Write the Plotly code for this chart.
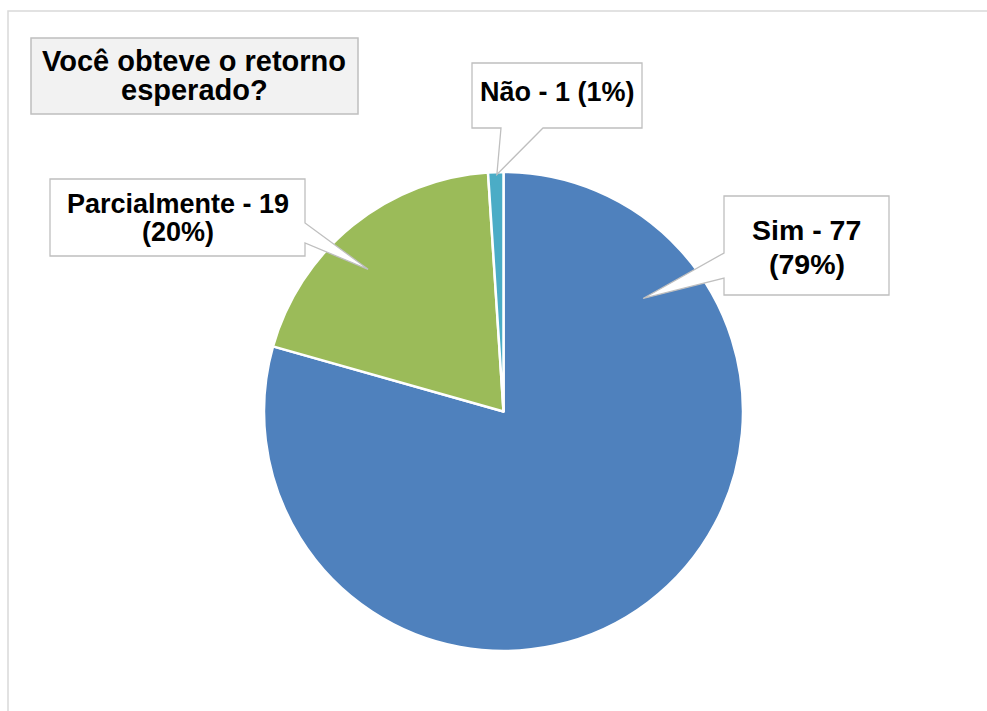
import math
import plotly.graph_objects as go

# ---- data ----
labels = ["Sim", "Parcialmente", "Não"]
values = [77, 19, 1]
colors = ["#4F81BD", "#9BBB59", "#4BACC6"]
title_lines = ["Você obteve o retorno", "esperado?"]

W, H = 987, 711
total = sum(values)
pcts = [round(v * 100 / total) for v in values]

def X(px):
    return px / W

def Y(py):
    return 1 - py / H

# pie geometry (pixels)
cx, cy, R = 503.5, 411.5, 239.5

fig = go.Figure(go.Pie(
    labels=labels, values=values, sort=False, direction="clockwise", rotation=0,
    marker=dict(colors=colors, line=dict(color="white", width=2.5)),
    textinfo="none", hoverinfo="label+value+percent",
    domain=dict(x=[X(cx - R), X(cx + R)], y=[Y(cy + R), Y(cy - R)]),
    showlegend=False,
))

shapes = []
annotations = []

# chart frame
shapes.append(dict(type="rect", xref="paper", yref="paper",
                   x0=X(8), x1=X(W + 20), y0=Y(H + 20), y1=Y(11),
                   line=dict(color="#D9D9D9", width=1.5), fillcolor="rgba(0,0,0,0)"))

# title box
TFS = 29
shapes.append(dict(type="rect", xref="paper", yref="paper",
                   x0=X(31), x1=X(358), y0=Y(114), y1=Y(38),
                   line=dict(color="#BFBFBF", width=1.5), fillcolor="#F2F2F2"))
for line, base in zip(title_lines, [71, 100]):
    annotations.append(dict(text=f"<b>{line}</b>", xref="paper", yref="paper",
                            x=X(194), y=Y(base - 0.35 * TFS), xanchor="center", yanchor="middle",
                            showarrow=False, font=dict(family="Liberation Sans, Arial", size=TFS, color="black")))

# callouts: box (x0,y0,x1,y1), side of pointer, pointer base coords, tip angle (deg cw from top), tip radius fraction,
# font size, line baselines
callouts = {
    "Sim": dict(box=(724, 196, 889, 295), side="left", base=(253, 278), ang=51, rf=0.75,
                fs=28.5, baselines=[240, 273.5], two=True),
    "Parcialmente": dict(box=(50, 179, 305, 256), side="right", base=(223, 243), ang=316.4, rf=0.82,
                         fs=27, baselines=[213.3, 241.5], two=True),
    "Não": dict(box=(472, 63, 642, 128), side="bottom", base=(501, 543), ang=358.4, rf=0.99,
                fs=27, baselines=[101.5], two=False),
}

for lab, v, p in zip(labels, values, pcts):
    c = callouts[lab]
    x0, y0, x1, y1 = c["box"]
    a = math.radians(c["ang"])
    tx = cx + c["rf"] * R * math.sin(a)
    ty = cy - c["rf"] * R * math.cos(a)
    b1, b2 = c["base"]
    if c["side"] == "left":
        pts = [(x0, y0), (x1, y0), (x1, y1), (x0, y1), (x0, b2), (tx, ty), (x0, b1)]
    elif c["side"] == "right":
        pts = [(x0, y0), (x1, y0), (x1, b1), (tx, ty), (x1, b2), (x1, y1), (x0, y1)]
    else:
        pts = [(x0, y0), (x1, y0), (x1, y1), (b2, y1), (tx, ty), (b1, y1), (x0, y1)]
    path = "M " + " L ".join(f"{X(px):.6f},{Y(py):.6f}" for px, py in pts) + " Z"
    shapes.append(dict(type="path", xref="paper", yref="paper", path=path,
                       line=dict(color="#BFBFBF", width=1.3), fillcolor="white"))
    if c["two"]:
        lines = [f"{lab} - {v}", f"({p}%)"]
    else:
        lines = [f"{lab} - {v} ({p}%)"]
    xc = (x0 + x1) / 2
    for line, base in zip(lines, c["baselines"]):
        annotations.append(dict(text=f"<b>{line}</b>", xref="paper", yref="paper",
                                x=X(xc), y=Y(base - 0.35 * c["fs"]), xanchor="center", yanchor="middle",
                                showarrow=False,
                                font=dict(family="Liberation Sans, Arial", size=c["fs"], color="black")))

fig.update_layout(
    width=W, height=H, margin=dict(l=0, r=0, t=0, b=0),
    paper_bgcolor="white", plot_bgcolor="white",
    shapes=shapes, annotations=annotations,
)

fig.write_html("out.html")
